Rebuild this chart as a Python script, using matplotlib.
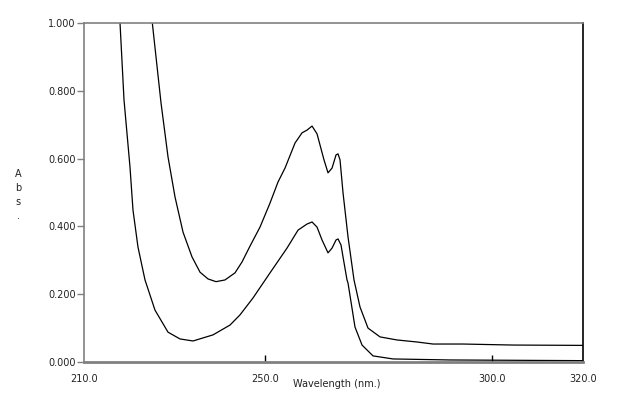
import numpy as np
import matplotlib.pyplot as plt

# upper spectrum
wl_a = np.array([224.6, 225.06, 226.98, 228.52, 230.06, 231.83, 233.81, 235.57, 237.34, 239.10,
                 241.08, 243.29, 244.83, 246.60, 248.80, 251.01, 252.77, 254.31, 256.52,
                 258.06, 259.16, 260.27, 261.37, 262.03, 262.91, 263.79, 264.68, 265.56,
                 266.00, 266.44, 267.10, 268.20, 269.52, 270.85, 272.61, 275.26, 279.00,
                 283.41, 286.94, 293.55, 304.58, 320.0])
abs_a = np.array([1.02, 1.000, 0.764, 0.605, 0.487, 0.383, 0.310, 0.265, 0.245, 0.237,
                  0.242, 0.263, 0.295, 0.342, 0.398, 0.469, 0.531, 0.572, 0.646,
                  0.676, 0.684, 0.696, 0.673, 0.640, 0.596, 0.558, 0.572, 0.611,
                  0.614, 0.596, 0.499, 0.369, 0.242, 0.162, 0.100, 0.074, 0.065,
                  0.059, 0.053, 0.053, 0.050, 0.049])

# lower spectrum
wl_b = np.array([217.8, 217.94, 218.82, 220.14, 220.80, 221.90, 223.45, 225.65, 228.52, 231.16,
                 234.03, 238.44, 242.19, 244.39, 247.26, 251.01, 254.75, 257.18, 259.16,
                 260.27, 261.37, 262.47, 263.79, 264.68, 265.56, 266.00, 266.66, 267.10,
                 267.98, 268.20, 269.74, 271.29, 273.71, 278.12, 290.69, 320.0])
abs_b = np.array([1.02, 1.000, 0.773, 0.575, 0.448, 0.339, 0.242, 0.153, 0.088, 0.068,
                  0.062, 0.080, 0.109, 0.139, 0.189, 0.263, 0.336, 0.389, 0.407,
                  0.413, 0.398, 0.360, 0.322, 0.336, 0.360, 0.363, 0.345, 0.310,
                  0.242, 0.233, 0.103, 0.050, 0.018, 0.009, 0.006, 0.004])

plt.rcParams['font.family'] = 'DejaVu Sans'
fig = plt.figure(figsize=(6.18, 3.95), dpi=100)
ax = fig.add_axes([84/618, 1-362/395, 499/618, 339/395])

ax.plot(wl_a, abs_a, color='black', lw=0.9)
ax.plot(wl_b, abs_b, color='black', lw=0.9)

ax.set_xlim(210, 320)
ax.set_ylim(0, 1.0)

grey = '#808080'
for s in ['left', 'top']:
    ax.spines[s].set_color(grey)
    ax.spines[s].set_linewidth(1.2)
ax.spines['bottom'].set_color(grey)
ax.spines['bottom'].set_linewidth(2)
ax.spines['right'].set_color('black')
ax.spines['right'].set_linewidth(1.2)

ax.set_yticks([0, 0.2, 0.4, 0.6, 0.8, 1.0])
ax.set_yticklabels(['0.000', '0.200', '0.400', '0.600', '0.800', '1.000'])
ax.tick_params(axis='y', direction='out', length=5, width=1, color=grey,
               labelsize=7, labelcolor='#222222', pad=1)

ax.set_xticks([250, 300])
ax.set_xticklabels([])
ax.tick_params(axis='x', direction='in', length=5, width=1, color='black')

for xv, lab in zip([210, 250, 300, 320], ['210.0', '250.0', '300.0', '320.0']):
    ax.text(xv, -0.035, lab, ha='center', va='top', fontsize=7, color='#222222',
            transform=ax.get_xaxis_transform())

fig.text(337/618, 1-384/395, 'Wavelength (nm.)', ha='center', va='center',
         fontsize=7, color='#222222')
for i, ch in enumerate(['A', 'b', 's', '.']):
    fig.text(18/618, 1-(174 + 14*i)/395, ch, ha='center', va='center',
             fontsize=7, color='#222222')

plt.savefig('out.png', dpi=100)
